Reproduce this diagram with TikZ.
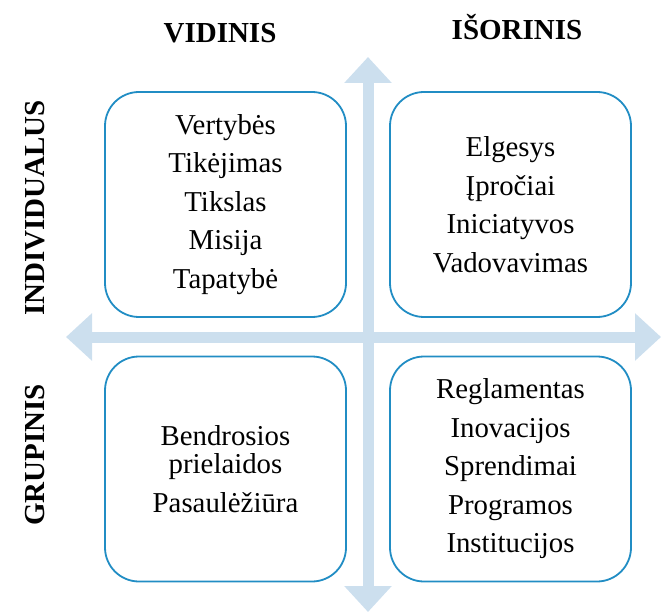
\documentclass[tikz,border=0pt]{standalone}
\usepackage{fontspec}
\setmainfont{Liberation Serif}
\usetikzlibrary{arrows.meta,positioning}
\definecolor{boxblue}{RGB}{33,141,196}
\definecolor{axisblue}{RGB}{204,223,238}

\begin{document}
\begin{tikzpicture}[x=1pt,y=-1pt,
  quad/.style={draw=boxblue, line width=1.8pt, rounded corners=34pt, fill=white,
    minimum width=241pt, minimum height=225pt, inner sep=0pt, align=center,
    font=\fontsize{28.8}{38.5}\selectfont},
  head/.style={inner sep=0pt, font=\fontsize{29}{34}\selectfont\bfseries},
  axis/.style={axisblue, line width=11pt,
    {Triangle[width=46pt,length=26pt]}-{Triangle[width=46pt,length=26pt]}}]
\useasboundingbox (0,0) rectangle (661,612);
% The axes
\draw[axis] (368,612) -- (368,57);
\draw[axis] (66,337) -- (661,337);
% Headings
\node[head, anchor=base] (vidinis) at (220,43) {VIDINIS};
\node[head, anchor=base] (isorinis) at (517,40) {IŠORINIS};
\node[head, rotate=90] (individualus) at (35,208) {INDIVIDUALUS};
\node[head, rotate=90] (grupinis) at (35,455) {GRUPINIS};
% Quadrants
\node[quad] (vid-ind) at (225.5,204.5) {Vertybės\\ Tikėjimas\\ Tikslas\\ Misija\\ Tapatybė};
\node[quad] (isor-ind) at (510.5,204.5) {Elgesys\\ Įpročiai\\ Iniciatyvos\\ Vadovavimas};
\node[quad] (vid-grup) at (225.5,469) {Bendrosios\\[-10pt] prielaidos\\ Pasaulėžiūra};
\node[quad] (isor-grup) at (510.5,469) {Reglamentas\\ Inovacijos\\ Sprendimai\\ Programos\\ Institucijos};
\end{tikzpicture}
\end{document}
